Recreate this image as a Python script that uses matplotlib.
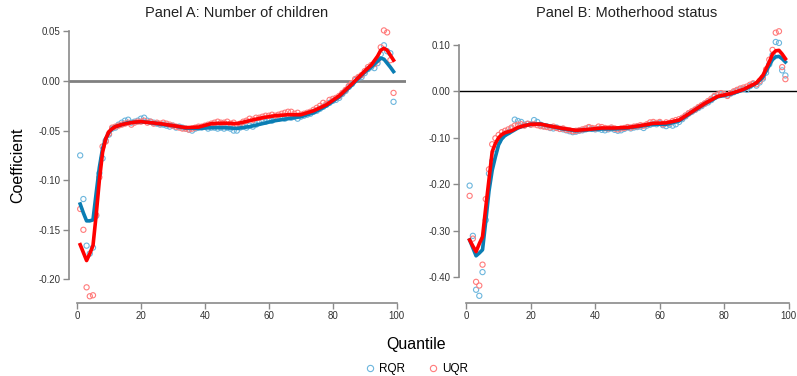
import numpy as np
import matplotlib.pyplot as plt
from matplotlib.lines import Line2D

# quantiles 1..99
quantiles = list(range(1, 100))

# Panel A: Number of children -- point estimates
a_rqr = [-0.075, -0.119, -0.166, -0.174, -0.168, -0.136, -0.093, -0.078, -0.060, -0.054,
         -0.048, -0.047, -0.044, -0.042, -0.040, -0.039, -0.042, -0.041, -0.040, -0.038,
         -0.037, -0.040, -0.041, -0.042, -0.043, -0.044, -0.044, -0.045, -0.046, -0.045,
         -0.047, -0.046, -0.047, -0.048, -0.049, -0.050, -0.048, -0.047, -0.047, -0.046,
         -0.048, -0.047, -0.047, -0.048, -0.047, -0.048, -0.047, -0.048, -0.050, -0.050,
         -0.047, -0.046, -0.047, -0.045, -0.046, -0.044, -0.042, -0.041, -0.041, -0.039,
         -0.040, -0.038, -0.038, -0.037, -0.038, -0.036, -0.037, -0.036, -0.038, -0.036,
         -0.035, -0.034, -0.033, -0.031, -0.030, -0.028, -0.026, -0.024, -0.022, -0.020,
         -0.019, -0.017, -0.013, -0.010, -0.006, -0.003, 0.001, 0.003, 0.004, 0.008,
         0.012, 0.014, 0.013, 0.018, 0.027, 0.036, 0.030, 0.028, -0.021]
a_uqr = [-0.129, -0.150, -0.208, -0.217, -0.216, -0.135, -0.097, -0.066, -0.061, -0.053,
         -0.047, -0.046, -0.045, -0.044, -0.043, -0.042, -0.044, -0.042, -0.041, -0.041,
         -0.040, -0.042, -0.041, -0.043, -0.042, -0.043, -0.042, -0.043, -0.044, -0.045,
         -0.046, -0.047, -0.048, -0.048, -0.049, -0.048, -0.047, -0.046, -0.046, -0.045,
         -0.044, -0.043, -0.042, -0.041, -0.042, -0.042, -0.041, -0.043, -0.042, -0.044,
         -0.043, -0.041, -0.040, -0.038, -0.039, -0.037, -0.037, -0.036, -0.035, -0.035,
         -0.034, -0.035, -0.034, -0.033, -0.032, -0.031, -0.031, -0.033, -0.032, -0.034,
         -0.033, -0.032, -0.031, -0.029, -0.027, -0.025, -0.022, -0.023, -0.019, -0.018,
         -0.017, -0.015, -0.012, -0.009, -0.005, -0.002, 0.002, 0.004, 0.006, 0.010,
         0.014, 0.016, 0.017, 0.021, 0.034, 0.051, 0.049, 0.021, -0.012]

# smoothed fits
fit_q = [1, 2, 3, 4, 5, 6, 7, 8, 9, 10, 11, 12, 14, 16, 18, 20, 23, 26, 30, 34, 38, 42,
         46, 50, 54, 58, 62, 66, 70, 74, 78, 82, 86, 90, 92, 94, 95, 96, 97, 98, 99]
a_rqr_fit = [-0.124, -0.133, -0.141, -0.141, -0.140, -0.113, -0.087, -0.068, -0.058, -0.052,
             -0.048, -0.046, -0.044, -0.042, -0.0415, -0.041, -0.042, -0.0435, -0.045, -0.0475,
             -0.0478, -0.047, -0.047, -0.0478, -0.046, -0.043, -0.040, -0.038, -0.036, -0.032,
             -0.025, -0.016, -0.004, 0.009, 0.014, 0.020, 0.023, 0.022, 0.018, 0.014, 0.0095]
a_uqr_fit = [-0.165, -0.173, -0.181, -0.174, -0.166, -0.135, -0.100, -0.072, -0.058, -0.051,
             -0.048, -0.046, -0.044, -0.0425, -0.0415, -0.041, -0.042, -0.043, -0.045, -0.047,
             -0.0465, -0.043, -0.0425, -0.043, -0.040, -0.037, -0.035, -0.034, -0.034, -0.030,
             -0.024, -0.015, -0.003, 0.010, 0.016, 0.025, 0.031, 0.033, 0.031, 0.026, 0.021]

# Panel B: Motherhood status
b_rqr = [-0.203, -0.311, -0.427, -0.440, -0.389, -0.277, -0.177, -0.150, -0.125, -0.108,
         -0.098, -0.092, -0.088, -0.080, -0.061, -0.064, -0.066, -0.072, -0.070, -0.071,
         -0.062, -0.066, -0.072, -0.075, -0.076, -0.079, -0.080, -0.078, -0.081, -0.082,
         -0.084, -0.086, -0.088, -0.087, -0.085, -0.084, -0.082, -0.078, -0.081, -0.082,
         -0.081, -0.083, -0.084, -0.082, -0.080, -0.083, -0.085, -0.084, -0.081, -0.078,
         -0.080, -0.078, -0.077, -0.076, -0.079, -0.074, -0.072, -0.070, -0.071, -0.068,
         -0.073, -0.075, -0.072, -0.074, -0.071, -0.066, -0.060, -0.054, -0.048, -0.044,
         -0.040, -0.036, -0.032, -0.027, -0.024, -0.019, -0.012, -0.008, -0.006, -0.007,
         -0.009, -0.005, -0.002, 0.001, 0.004, 0.005, 0.003, 0.011, 0.016, 0.012,
         0.019, 0.027, 0.040, 0.058, 0.078, 0.106, 0.104, 0.045, 0.034]
b_uqr = [-0.225, -0.317, -0.410, -0.418, -0.373, -0.232, -0.168, -0.114, -0.101, -0.094,
         -0.088, -0.085, -0.082, -0.078, -0.074, -0.072, -0.071, -0.074, -0.070, -0.072,
         -0.071, -0.073, -0.075, -0.076, -0.077, -0.078, -0.076, -0.079, -0.081, -0.080,
         -0.083, -0.084, -0.086, -0.085, -0.084, -0.082, -0.080, -0.077, -0.079, -0.080,
         -0.076, -0.077, -0.079, -0.080, -0.078, -0.080, -0.082, -0.080, -0.079, -0.077,
         -0.078, -0.076, -0.075, -0.073, -0.074, -0.071, -0.067, -0.066, -0.068, -0.066,
         -0.071, -0.067, -0.068, -0.064, -0.062, -0.060, -0.057, -0.052, -0.047, -0.043,
         -0.039, -0.034, -0.030, -0.026, -0.021, -0.016, -0.010, -0.007, -0.004, -0.006,
         -0.010, -0.004, 0.000, 0.003, 0.006, 0.008, 0.010, 0.014, 0.017, 0.015,
         0.022, 0.030, 0.047, 0.068, 0.089, 0.126, 0.129, 0.052, 0.026]
b_rqr_fit = [-0.320, -0.337, -0.354, -0.348, -0.341, -0.280, -0.215, -0.170, -0.141, -0.115,
             -0.102, -0.095, -0.087, -0.079, -0.074, -0.071, -0.0705, -0.075, -0.081, -0.085,
             -0.083, -0.081, -0.081, -0.079, -0.075, -0.071, -0.071, -0.064, -0.045, -0.027,
             -0.012, -0.006, 0.003, 0.017, 0.030, 0.056, 0.068, 0.074, 0.075, 0.070, 0.063]
b_uqr_fit = [-0.320, -0.333, -0.345, -0.328, -0.313, -0.250, -0.190, -0.130, -0.112, -0.100,
             -0.093, -0.089, -0.085, -0.078, -0.074, -0.071, -0.0705, -0.075, -0.080, -0.084,
             -0.082, -0.079, -0.079, -0.078, -0.074, -0.069, -0.068, -0.062, -0.044, -0.026,
             -0.011, -0.005, 0.004, 0.018, 0.034, 0.063, 0.080, 0.087, 0.088, 0.080, 0.070]

a_yticks = [0.05, 0.00, -0.05, -0.10, -0.15, -0.20]
b_yticks = [0.10, 0.00, -0.10, -0.20, -0.30, -0.40]
xticks = [0, 20, 40, 60, 80, 100]

blue_pt, red_pt = '#6cb6dd', '#ff7b7b'
blue_ln, red_ln = '#0a7db3', '#ff0000'
axis_gray = '#8a8a8a'

W, H = 797, 376
fig = plt.figure(figsize=(W / 100, H / 100), dpi=100)
plt.rcParams['font.family'] = ['Liberation Sans', 'DejaVu Sans']

# axes boxes in pixels: left, top, right, bottom
ax_a = fig.add_axes([69 / W, 1 - 303 / H, (406 - 69) / W, (303 - 20) / H])
ax_b = fig.add_axes([459 / W, 1 - 303 / H, (797 - 459) / W, (303 - 20) / H])

panels = [
    (ax_a, a_rqr, a_uqr, a_rqr_fit, a_uqr_fit, a_yticks, (-0.2238, 0.0615), (-2.5, 102.9),
     'Panel A: Number of children', 237, dict(color='#808080', lw=2.0)),
    (ax_b, b_rqr, b_uqr, b_rqr_fit, b_uqr_fit, b_yticks, (-0.4555, 0.1533), (-2.3, 102.6),
     'Panel B: Motherhood status', 627, dict(color='black', lw=1.0)),
]

for ax, rqr, uqr, rfit, ufit, yt, ylim, xlim, title, tx, zkw in panels:
    ax.axhline(0, zorder=1, **zkw)
    ax.scatter(quantiles, rqr, s=14, facecolors='none', edgecolors=blue_pt, linewidths=0.8, zorder=2)
    ax.scatter(quantiles, uqr, s=14, facecolors='none', edgecolors=red_pt, linewidths=0.8, zorder=2)
    ax.plot(fit_q, rfit, color=blue_ln, lw=2.6, zorder=3)
    ax.plot(fit_q, ufit, color=red_ln, lw=2.6, zorder=4)
    ax.set_xlim(*xlim)
    ax.set_ylim(*ylim)
    ax.set_xticks(xticks)
    ax.set_xticklabels([str(t) for t in xticks])
    ax.set_yticks(yt)
    ax.set_yticklabels(['%.2f' % t for t in yt])
    for s in ['top', 'right']:
        ax.spines[s].set_visible(False)
    ax.spines['left'].set_bounds(min(yt), max(yt))
    ax.spines['bottom'].set_bounds(0, 100)
    for s in ['left', 'bottom']:
        ax.spines[s].set_color(axis_gray)
        ax.spines[s].set_linewidth(1.2)
    ax.tick_params(direction='out', length=4, width=1, color=axis_gray,
                   labelsize=7, labelcolor='#333333', pad=2)
    ax.patch.set_visible(False)
    fig.text(tx / W, 1 - 13 / H, title, ha='center', va='center', fontsize=10.5, color='#222222')

fig.text(18 / W, 1 - 165 / H, 'Coefficient', rotation=90, ha='center', va='center', fontsize=11.5)
fig.text(416 / W, 1 - 345 / H, 'Quantile', ha='center', va='center', fontsize=11.5)

handles = [Line2D([], [], ls='none', marker='o', mfc='none', mec=blue_pt, ms=4.5, mew=0.8),
           Line2D([], [], ls='none', marker='o', mfc='none', mec=red_pt, ms=4.5, mew=0.8)]
fig.legend(handles, ['RQR', 'UQR'], loc='center', bbox_to_anchor=(416 / W, 1 - 369 / H),
           ncol=2, frameon=False, fontsize=8.5, handletextpad=0.3, columnspacing=1.8,
           handlelength=1.0)

fig.savefig('out.png', dpi=100)
